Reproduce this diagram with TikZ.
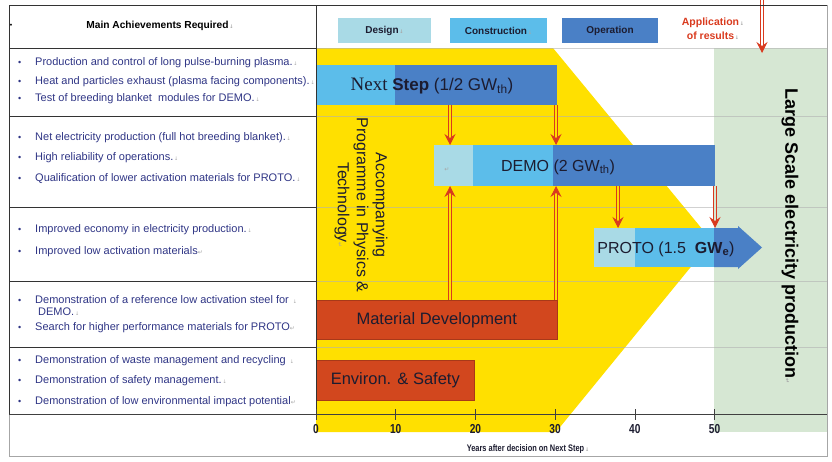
\documentclass[tikz,border=0pt]{standalone}
\usepackage{fontspec}
\setmainfont{Liberation Sans}
\newfontfamily\seriffont{Liberation Serif}
\newfontfamily\narrowfont[FakeStretch=0.78]{Liberation Sans}
\newfontfamily\symfont{DejaVu Sans}
\usepackage{tikz}
\usetikzlibrary{arrows.meta,positioning}
\usepackage{xcolor}

\definecolor{yel}{HTML}{FFE000}
\definecolor{grn}{HTML}{D6E7D3}
\definecolor{design}{HTML}{A9DAE6}
\definecolor{constr}{HTML}{5CBDEA}
\definecolor{oper}{HTML}{4A80C6}
\definecolor{matc}{HTML}{D2471E}
\definecolor{arrc}{HTML}{D93A1E}
\definecolor{navy}{HTML}{2F3585}
\definecolor{ink}{HTML}{1C1C30}

\newcommand{\cellmk}{{\symfont\fontsize{5}{5}\selectfont\color{gray!70}\,↓}}
\newcommand{\parmk}{{\symfont\fontsize{6}{6}\selectfont\color{gray!70}↵}}
\newcommand{\itbul}{\makebox[17pt][l]{\small\textbullet}}

\tikzset{
  achv/.style={anchor=west, inner sep=0pt, font=\fontsize{11}{13}\selectfont, text=navy},
  bar/.style={anchor=north west, inner sep=0pt, outer sep=0pt},
  barlbl/.style={inner sep=0pt, font=\fontsize{16}{16}\selectfont, text=ink},
  redbar/.style={anchor=north west, fill=matc, draw=matc!80!black, line width=0.6pt,
    inner sep=0pt, font=\fontsize{16.5}{16.5}\selectfont, text=ink},
  legbox/.style={minimum height=25pt, inner sep=0pt, font=\bfseries\fontsize{10}{12}\selectfont, text=ink},
  redarr/.style={draw=arrc, line width=0.9pt, double=yel, double distance=1.3pt,
    -{Stealth[length=11pt, width=11pt, inset=4pt]}},
  tab/.style={draw=black!80, line width=0.7pt},
  gridl/.style={draw=gray!60, line width=0.4pt, opacity=0.6}
}

\begin{document}
\begin{tikzpicture}[x=1pt, y=-1pt]
  \useasboundingbox (0,0) rectangle (832,461);

  % Frame
  \draw[gray!70, line width=0.6pt] (9,5) rectangle (827,456);

  % Background zones
  \fill[yel] (316,48) -- (553,48) -- (712,241) -- (556,432) -- (316,432) -- cycle;
  \node[bar, fill=grn, minimum width=113pt, minimum height=384pt] (lsep) at (714,48) {};
  \foreach \y in {48,116,207,281,347}
    \draw[gridl] (316,\y) -- (827,\y);

  % Legend
  \node[legbox, fill=design, minimum width=93pt] (legd) at (384.5,30.5) {Design\cellmk};
  \node[legbox, fill=constr, minimum width=97pt] (legc) at (498.5,30.5) {Construction\cellmk};
  \node[legbox, fill=oper, minimum width=96pt] (lego) at (610,30.5) {Operation};
  \node[align=center, text=arrc, font=\bfseries\fontsize{10.5}{14}\selectfont] (app) at (713,29)
    {Application\cellmk\\of results\cellmk};

  % Next Step
  \fill[constr] (316,65) rectangle (395,105);
  \fill[oper] (395,65) rectangle (557,105);
  \node[bar, minimum width=241pt, minimum height=40pt] (next) at (316,65) {};
  \node[barlbl, font=\fontsize{17}{17}\selectfont] (nextlbl) at (432,86)
    {{\seriffont\fontsize{19}{19}\selectfont Next} \textbf{Step} (1/2 GW\textsubscript{th})};

  % DEMO
  \fill[design] (434,145) rectangle (473,186);
  \fill[constr] (473,145) rectangle (553,186);
  \fill[oper] (553,145) rectangle (715,186);
  \node[bar, minimum width=281pt, minimum height=41pt] (demo) at (434,145) {};
  \node[barlbl] (demolbl) at (558,167) {DEMO (2 GW\textsubscript{th})};
  \node (demomk) at (447,170) {\parmk};

  % PROTO
  \fill[design] (594,228) rectangle (635,267);
  \fill[constr] (635,228) rectangle (714,267);
  \fill[oper] (714,228) -- (738,228) -- (738,226) -- (762,247.5) -- (738,269) -- (738,267) -- (714,267) -- cycle;
  \node[bar, minimum width=144pt, minimum height=39pt] (proto) at (594,228) {};
  \node[barlbl] (protolbl) at (666,249) {PROTO (1.5\ \ \textbf{GW\textsubscript{e}})};

  % Material and safety
  \node[redbar, minimum width=241pt, minimum height=39pt] (matdev) at (316,300) {Material Development};
  \node[redbar, minimum width=158pt, minimum height=40pt] (envsaf) at (316,360) {Environ. \& Safety};

  % Arrows
  \coordinate (x17) at (450,0);
  \coordinate (x30) at (556,0);
  \coordinate (x38) at (618,0);
  \coordinate (x50) at (715,0);
  \coordinate (apptop) at (762,0);
  \draw[redarr] (next.south -| x17) -- (demo.north -| x17);
  \draw[redarr] (next.south -| x30) -- (demo.north -| x30);
  \draw[redarr] (demo.south -| x38) -- (proto.north -| x38);
  \draw[redarr, double=grn] (demo.south -| x50) -- (proto.north -| x50);
  \draw[redarr] (matdev.north -| x17) -- (demo.south -| x17);
  \draw[redarr] (matdev.north -| x30) -- (demo.south -| x30);
  \draw[redarr, double=white, shorten >=-5pt] (apptop) -- (lsep.north -| apptop);

  % Vertical labels
  \node[rotate=-90, align=center, text=ink, font=\fontsize{16}{19}\selectfont] (acc) at (361,205)
    {Accompanying\\Programme in Physics \&\\Technology\parmk};
  \node[rotate=-90, font=\bfseries\fontsize{18}{18}\selectfont] (lsclbl) at (790,236)
    {Large Scale electricity production\parmk};

  % Table
  \draw[tab] (9,5) -- (827,5);
  \draw[tab] (9,5) -- (9,414);
  \draw[tab] (316,5) -- (316,414);
  \foreach \y in {48,116,207,281,347}
    \draw[tab] (9,\y) -- (316,\y);
  \node[font=\scriptsize] (hdot) at (11,26) {\textbullet};
  \node[font=\bfseries\fontsize{10.2}{12}\selectfont] (head) at (160,26) {Main Achievements Required\cellmk};

  \node[achv] (a1) at (18,63) {\itbul Production and control of long pulse-burning plasma.\cellmk};
  \node[achv] (a2) at (18,82) {\itbul Heat and particles exhaust (plasma facing components).\cellmk};
  \node[achv] (a3) at (18,99) {\itbul Test of breeding blanket\ \ modules for DEMO.\cellmk};

  \node[achv] (b1) at (18,138) {\itbul Net electricity production (full hot breeding blanket).\cellmk};
  \node[achv] (b2) at (18,158) {\itbul High reliability of operations.\cellmk};
  \node[achv] (b3) at (18,179) {\itbul Qualification of lower activation materials for PROTO.\cellmk};

  \node[achv] (c1) at (18,230) {\itbul Improved economy in electricity production.\cellmk};
  \node[achv] (c2) at (18,252) {\itbul Improved low activation materials\parmk};

  \node[achv] (d1) at (18,300) {\itbul Demonstration of a reference low activation steel for \cellmk};
  \node[achv] (d2) at (38,312) {DEMO.\cellmk};
  \node[achv] (d3) at (18,328) {\itbul Search for higher performance materials for PROTO\parmk};

  \node[achv] (e1) at (18,361) {\itbul Demonstration of waste management and recycling \cellmk};
  \node[achv] (e2) at (18,381) {\itbul Demonstration of safety management.\cellmk};
  \node[achv] (e3) at (18,402) {\itbul Demonstration of low environmental impact potential\parmk};

  % Time axis
  \draw[black!75, line width=0.8pt] (9,414) -- (827,414);
  \foreach \v in {0,10,20,30,40,50} {
    \draw[black!75, line width=0.6pt] (316+7.97*\v,409) -- (316+7.97*\v,420);
    \node[font=\narrowfont\bfseries\fontsize{13}{13}\selectfont, text=ink] (tk\v) at (316+7.97*\v,429) {\v};
  }
  \node[font=\narrowfont\bfseries\fontsize{9.5}{10}\selectfont, text=ink] (axtitle) at (528,449)
    {Years after decision on Next Step\cellmk};
\end{tikzpicture}
\end{document}
